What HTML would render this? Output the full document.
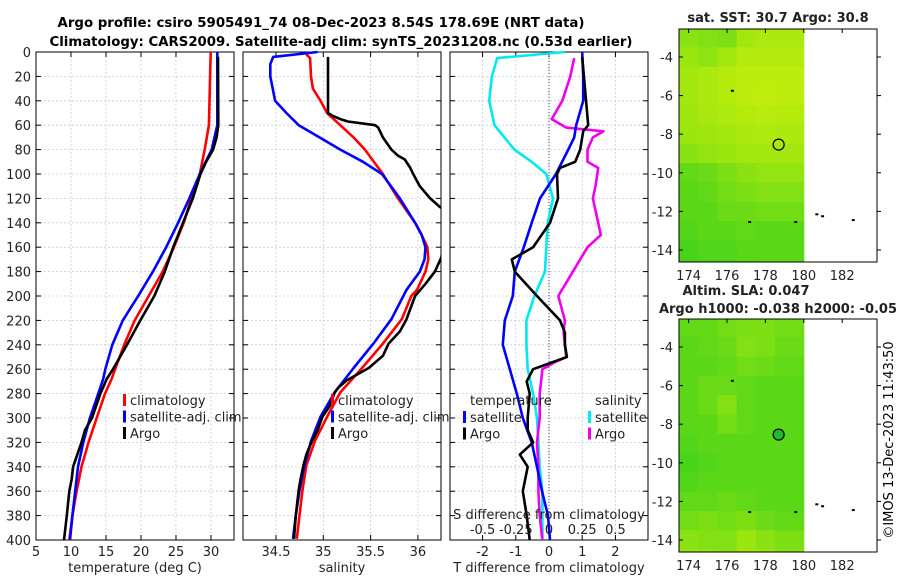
<!DOCTYPE html>
<html><head><meta charset="utf-8"><style>
body{margin:0;background:#fff;}
svg{display:block;font-family:"DejaVu Sans","Liberation Sans",sans-serif;}
</style></head><body>
<svg id="fig" width="900" height="580" viewBox="0 0 900 580">
<text x="321" y="27" text-anchor="middle" font-size="13" font-weight="bold" textLength="527" lengthAdjust="spacingAndGlyphs">Argo profile: csiro 5905491_74 08-Dec-2023 8.54S 178.69E (NRT data)</text>
<text x="341" y="46" text-anchor="middle" font-size="13" font-weight="bold" textLength="583" lengthAdjust="spacingAndGlyphs">Climatology: CARS2009. Satellite-adj clim: synTS_20231208.nc (0.53d earlier)</text>
<g id="p1"></g>
<g id="p2"></g>
<g id="p3"></g>
<g id="m1"></g>
<g id="m2"></g>
<text transform="translate(893,440) rotate(-90)" text-anchor="middle" font-size="13">©IMOS 13-Dec-2023 11:43:50</text>
</svg>
<script>
// ---- data ----
const depthTicks=[0,20,40,60,80,100,120,140,160,180,200,220,240,260,280,300,320,340,360,380,400];
const tempTicks=[5,10,15,20,25,30];
const salTicks=[34.5,35,35.5,36];
const tdiffTicks=[-2,-1,0,1,2];
const sdiffTicks=[-0.5,-0.25,0,0.25,0.5];
const sdiffTickLabels=["-0.5","-0.25","0","0.25","0.5"];
// temperature profiles
const tClimDepth=[0,60,80,100,120,140,160,180,200,220,240,260,268,280,300,320,340,360,380,400];
const tClimVal=[29.96,29.7,29.1,28.4,27.2,26.1,24.7,23.1,21.1,19.1,17.6,16.3,15.8,14.86,13.67,12.5,11.5,10.8,10.2,9.76];
const tSatDepth=[0,60,80,100,120,140,160,180,200,220,240,260,268,280,300,320,340,360,380,400];
const tSatVal=[30.9,30.9,30.1,28.4,26.9,25.3,23.6,21.7,19.6,17.4,15.9,14.9,14.6,13.9,12.7,11.76,11.0,10.6,10.2,9.86];
const tArgoDepth=[4,60,70,80,90,100,120,140,160,180,200,220,240,260,268,280,300,310,320,330,340,350,360,380,400];
const tArgoVal=[31.0,31.05,30.8,30.3,29.3,28.5,27.4,26.0,24.6,23.4,21.9,19.9,18.0,16.0,15.1,14.2,13.0,12.0,11.5,10.9,10.3,10.1,9.76,9.4,9.0];
// salinity profiles
const sClimDepth=[2,5,20,30,40,50,60,70,80,100,120,140,150,160,170,180,195,200,219,239,259,279,299,319,339,359,379,399];
const sClimVal=[34.82,34.86,34.87,34.89,34.97,35.04,35.18,35.32,35.44,35.63,35.79,35.97,36.04,36.10,36.11,36.08,35.99,35.93,35.83,35.63,35.41,35.18,35.04,34.91,34.82,34.78,34.75,34.72];
const sSatDepth=[0,4,10,20,40,50,60,70,80,90,100,120,140,150,160,170,180,195,219,239,259,279,299,319,339,359,379,399];
const sSatVal=[34.94,34.47,34.44,34.44,34.49,34.61,34.74,34.96,35.18,35.42,35.62,35.81,35.97,36.04,36.08,36.07,36.02,35.88,35.72,35.53,35.32,35.12,34.97,34.87,34.80,34.75,34.71,34.68];
const sArgoDepth=[4,50,52,55,57,60,62,70,80,85,88,95,100,110,120,127,130,168,180,190,200,219,229,239,249,259,269,275,279,290,299,310,319,330,339,350,359,379,399];
const sArgoVal=[35.05,35.05,35.09,35.18,35.26,35.55,35.58,35.63,35.72,35.79,35.86,35.92,35.95,36.02,36.13,36.23,36.30,36.25,36.18,36.08,35.97,35.88,35.81,35.69,35.63,35.48,35.25,35.16,35.12,35.07,34.99,34.94,34.88,34.82,34.79,34.76,34.74,34.71,34.69];
// differences from climatology
const dTSatDepth=[0,20,40,60,70,80,100,120,140,160,180,200,220,240,260,280,300,320,340,360,380,400];
const dTSatVal=[1.0,1.03,1.03,0.82,0.76,0.58,0.21,-0.27,-0.52,-0.76,-1.03,-1.09,-1.33,-1.39,-1.18,-0.97,-0.79,-0.52,-0.36,-0.21,-0.03,0.03];
const dTArgoDepth=[4,60,65,70,80,90,95,100,120,140,160,170,180,200,220,230,240,250,260,270,280,300,310,320,330,340,360,380,400];
const dTArgoVal=[1.0,1.18,1.03,1.0,0.94,0.79,0.33,0.24,0.27,0.03,-0.48,-1.12,-1.03,-0.36,0.33,0.48,0.48,0.54,-0.48,-0.67,-0.58,-0.64,-0.64,-0.48,-0.88,-0.64,-0.79,-0.67,-0.58];
const dSSatDepth=[0,5,20,40,60,80,90,100,120,140,160,180,200,220,240,260,280,300,320,340,360,380,400];
const dSSatVal=[0.12,-0.39,-0.43,-0.45,-0.41,-0.26,-0.13,-0.02,0.03,-0.01,-0.02,-0.03,-0.11,-0.17,-0.17,-0.16,-0.12,-0.09,-0.08,-0.07,-0.05,-0.05,-0.05];
const dSArgoDepth=[5,20,40,55,62,65,70,80,90,95,110,120,140,150,160,180,200,220,230,240,250,255,260,280,300,320,340,360,380,400];
const dSArgoVal=[0.19,0.16,0.1,0.02,0.13,0.41,0.33,0.29,0.29,0.37,0.35,0.33,0.37,0.39,0.29,0.18,0.07,0.12,0.11,0.12,0.13,0.03,-0.05,-0.07,-0.07,-0.09,-0.08,-0.08,-0.07,-0.05];
// maps (0 = green, 1 = yellow), 1-degree cells from lon 173.5, lat -2.5 downward
const sstField=[
[0.6,0.55,0.5,0.75,0.8,0.8],[0.7,0.62,0.75,0.85,0.85,0.85],[0.75,0.8,0.85,0.9,0.9,0.9],
[0.75,0.8,0.85,0.9,0.92,0.9],[0.72,0.78,0.82,0.85,0.88,0.85],[0.7,0.72,0.75,0.8,0.82,0.8],
[0.6,0.65,0.7,0.75,0.75,0.75],[0.35,0.4,0.5,0.6,0.65,0.65],[0.3,0.35,0.45,0.5,0.55,0.55],
[0.3,0.3,0.4,0.4,0.45,0.45],[0.25,0.3,0.3,0.35,0.3,0.3],[0.2,0.25,0.25,0.3,0.3,0.3],[0.15,0.2,0.2,0.25,0.3,0.3]];
const slaField=[
[0.35,0.35,0.45,0.5,0.5,0.45],[0.3,0.35,0.4,0.55,0.5,0.4],[0.3,0.3,0.35,0.45,0.4,0.35],
[0.3,0.4,0.4,0.35,0.3,0.3],[0.3,0.4,0.55,0.35,0.3,0.3],[0.3,0.3,0.45,0.35,0.3,0.3],
[0.25,0.3,0.3,0.3,0.3,0.3],[0.2,0.25,0.3,0.3,0.3,0.3],[0.25,0.3,0.3,0.3,0.3,0.3],
[0.35,0.35,0.4,0.35,0.3,0.3],[0.45,0.5,0.45,0.5,0.4,0.35],[0.6,0.55,0.55,0.7,0.6,0.5],[0.7,0.65,0.6,0.75,0.7,0.6]];
const lonTicks=[174,176,178,180,182];
const latTicks=[-4,-6,-8,-10,-12,-14];
const argoLon=178.69, argoLat=-8.54;

// ---- helpers ----
const NS="http://www.w3.org/2000/svg";
function mk(parent,tag,attrs){const e=document.createElementNS(NS,tag);for(const k in attrs)e.setAttribute(k,attrs[k]);parent.appendChild(e);return e;}
function txt(parent,x,y,s,anchor,size){const t=mk(parent,'text',{x:x,y:y,'text-anchor':anchor||'middle','font-size':size||13,fill:'#222'});t.textContent=s;return t;}
const Y0=52,Y1=540;
const yD=d=>Y0+(Y1-Y0)*d/400;

function panel(g,x0,x1,dom,xt,xtl,showY,name){
  const xs=v=>x0+(x1-x0)*(v-dom[0])/(dom[1]-dom[0]);
  const grid=mk(g,'g',{});
  
  
  depthTicks.forEach(d=>{
    mk(grid,'line',{x1:x0,x2:x1,y1:yD(d),y2:yD(d),stroke:'#c4cce6','stroke-width':0.8,'stroke-dasharray':'2,2'});
    mk(grid,'line',{x1:x0,x2:x0+5,y1:yD(d),y2:yD(d),stroke:'#000'});
    mk(grid,'line',{x1:x1-5,x2:x1,y1:yD(d),y2:yD(d),stroke:'#000'});
    if(showY){const t=txt(g,31,yD(d)+5,String(d),'end');}
  });
  xt.forEach((v,i)=>{
    mk(grid,'line',{x1:xs(v),x2:xs(v),y1:Y0,y2:Y1,stroke:'#c4cce6','stroke-width':0.8,'stroke-dasharray':'2,2'});
    mk(grid,'line',{x1:xs(v),x2:xs(v),y1:Y1-5,y2:Y1,stroke:'#000'});
    mk(grid,'line',{x1:xs(v),x2:xs(v),y1:Y0,y2:Y0+5,stroke:'#000'});
    const t=txt(g,xs(v),556,xtl?xtl[i]:String(v));
    
    
  });
  const fr=mk(g,'rect',{x:x0,y:Y0,width:x1-x0,height:Y1-Y0,fill:'none',stroke:'#000','stroke-width':1});
  
  
  return xs;
}
function series(g,xs,depths,vals,color,name,x0,x1){
  const cid='c'+Math.round(x0);
  if(!document.getElementById(cid)){const cp=mk(document.getElementById('fig'),'clipPath',{id:cid});mk(cp,'rect',{x:x0,y:Y0-2,width:x1-x0,height:Y1-Y0+4});}
  const pts=depths.map((d,i)=>xs(vals[i]).toFixed(1)+','+yD(d).toFixed(1)).join(' ');
  const p=mk(g,'polyline',{points:pts,fill:'none',stroke:color,'stroke-width':2.6,'stroke-linejoin':'round','clip-path':'url(#'+cid+')'});
  
  
}
function legend(g,x,y,items){
  items.forEach((it,i)=>{
    const yy=y+i*16.5;
    mk(g,'rect',{x:x,y:yy-6,width:3,height:12,fill:it[1]});
    const t=txt(g,x+7,yy+5,it[0],'start');
    
    
  });
}

// panel 1
const g1=document.getElementById('p1');
const xs1=panel(g1,36,234,[5,33.29],tempTicks,null,true,'temperature');
series(g1,xs1,tClimDepth,tClimVal,'#ff0000','temp-climatology-line',36,234);
series(g1,xs1,tSatDepth,tSatVal,'#0000ff','temp-satellite-line',36,234);
series(g1,xs1,tArgoDepth,tArgoVal,'#000000','temp-argo-line',36,234);
legend(g1,123,400,[['climatology','#ff0000'],['satellite-adj. clim','#0000ff'],['Argo','#000']]);
{const t=txt(g1,135,572,'temperature (deg C)');}

// panel 2
const g2=document.getElementById('p2');
const xs2=panel(g2,243,441,[34.5-(276-243)/94.6,34.5+(441-276)/94.6],salTicks,null,false,'salinity');
series(g2,xs2,sClimDepth,sClimVal,'#ff0000','sal-climatology-line',243,441);
series(g2,xs2,sSatDepth,sSatVal,'#0000ff','sal-satellite-line',243,441);
series(g2,xs2,sArgoDepth,sArgoVal,'#000000','sal-argo-line',243,441);
legend(g2,331,400,[['climatology','#ff0000'],['satellite-adj. clim','#0000ff'],['Argo','#000']]);
{const t=txt(g2,342,572,'salinity');}

// panel 3
const g3=document.getElementById('p3');
const xs3=panel(g3,450,648,[-2.98,2.98],tdiffTicks,null,false,'difference');
mk(g3,'line',{x1:xs3(0),x2:xs3(0),y1:Y0,y2:Y1,stroke:'#444','stroke-width':1,'stroke-dasharray':'1,2'});
const xs3s=v=>xs3(v*4);
series(g3,xs3s,dSSatDepth,dSSatVal,'#00e8f0','sdiff-satellite-line',450,648);
series(g3,xs3s,dSArgoDepth,dSArgoVal,'#f000f0','sdiff-argo-line',450,648);
series(g3,xs3,dTSatDepth,dTSatVal,'#0000ff','tdiff-satellite-line',450,648);
series(g3,xs3,dTArgoDepth,dTArgoVal,'#000000','tdiff-argo-line',450,648);
{const t=txt(g3,470,405,'temperature','start');}
{const t=txt(g3,595,405,'salinity','start');}
legend(g3,463,417,[['satellite','#0000ff'],['Argo','#000']]);
legend(g3,588,417,[['satellite','#00e8f0'],['Argo','#f000f0']]);
{const t=txt(g3,549,519,'S difference from climatology');}
sdiffTicks.forEach((v,i)=>{const t=txt(g3,xs3s(v),534,sdiffTickLabels[i]);});
{const t=txt(g3,549,572,'T difference from climatology');}

// maps
function col(v){const a=[40,205,30],b=[205,240,10];return 'rgb('+a.map((c,i)=>Math.round(c+(b[i]-c)*v)).join(',')+')';}
function map(g,top,field,name,circleFill){
  const bx0=679,bx1=877,by0=top,by1=top+233;
  const lonX=l=>bx0+(l-173.5)*19.2;
  const latY=l=>by0+(-2.55-l)*19.3;
  field.forEach((row,r)=>row.forEach((v,c)=>{
    const la0=-2.5-r, la1=Math.max(-2.5-r-1,-14.6);
    const lo0=173.5+c, lo1=(c===row.length-1)?180:174.5+c;
    const y0=Math.max(latY(la0),by0);
    const cell=mk(g,'rect',{x:lonX(lo0).toFixed(1),y:y0.toFixed(1),width:(lonX(lo1)-lonX(lo0)+0.5).toFixed(1),height:(latY(la1)-y0+0.5).toFixed(1),fill:col(v)});
    
    
  }));
  const fr=mk(g,'rect',{x:bx0,y:by0,width:bx1-bx0,height:by1-by0,fill:'none',stroke:'#000'});
  
  
  latTicks.forEach(l=>{
    mk(g,'line',{x1:bx0,x2:bx0+4,y1:latY(l),y2:latY(l),stroke:'#000'});
    mk(g,'line',{x1:bx1,x2:bx1+4,y1:latY(l),y2:latY(l),stroke:'#000'});
    const t=txt(g,673,latY(l)+5,String(l),'end');
    
    
  });
  lonTicks.forEach(l=>{
    mk(g,'line',{x1:lonX(l),x2:lonX(l),y1:by0,y2:by0+4,stroke:'#000'});
    const t=txt(g,lonX(l),by1+18,String(l));
    
    
  });
  // coast fragments
  [[180.6,-12.1],[180.9,-12.2],[182.5,-12.4],[177.1,-12.5],[179.5,-12.5],[176.2,-5.7]].forEach(p=>mk(g,'rect',{x:lonX(p[0]),y:latY(p[1]),width:3,height:2,fill:'#000'}));
  const c=mk(g,'circle',{cx:lonX(argoLon),cy:latY(argoLat),r:5.5,fill:circleFill,stroke:'#000','stroke-width':1.2});
  
  
}
const gm1=document.getElementById('m1');
map(gm1,29,sstField,'sst-map','none');
{const t=txt(gm1,778,22,'sat. SST: 30.7 Argo: 30.8','middle',13);t.setAttribute('font-weight','bold');}
const gm2=document.getElementById('m2');
map(gm2,319,slaField,'sla-map','#22b830');
{const t=txt(gm2,746,295,'Altim. SLA: 0.047','middle',13);t.setAttribute('font-weight','bold');}
{const t=txt(gm2,778,313,'Argo h1000: -0.038 h2000: -0.05','middle',13);t.setAttribute('font-weight','bold');}
</script>
</body></html>
